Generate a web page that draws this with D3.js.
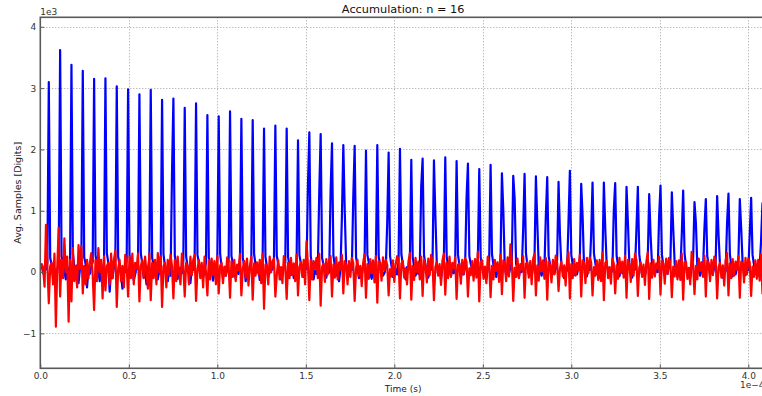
<!DOCTYPE html>
<html>
<head>
<meta charset="utf-8">
<script src="https://cdn.jsdelivr.net/npm/d3@7"></script>
<style>
  body { margin: 0; background: #fff; }
  svg { display: block; }
  text { font-family: "DejaVu Sans", sans-serif; }
</style>
</head>
<body>
<svg id="chart" width="762" height="396"></svg>
<script>
// Averaged ADC record, 16 accumulations, one sample every 0.8 µs
const titleText = "Accumulation: n = 16";
const xLabel = "Time (s)";
const yLabel = "Avg. Samples [Digits]";
const sampleInterval = 0.8e-6;
const xDomain = [0, 4.1e-4];
const yDomain = [-1570, 4155];
const xTicks = [0, 0.5e-4, 1.0e-4, 1.5e-4, 2.0e-4, 2.5e-4, 3.0e-4, 3.5e-4, 4.0e-4];
const yTicks = [-1000, 0, 1000, 2000, 3000, 4000];

// channel A (digits), eight samples per pulse period
const channelA = [
  60, 110, -20, 90, 40, 150, 3100, 230,
  120, -80, 60, -150, 30, 180, 3620, 260,
  140, 10, -120, 80, -60, 120, 3380, 300,
  90, -40, 110, -180, 50, 200, 3280, 240,
  130, -250, 40, -30, 90, 160, 3150, 280,
  100, 20, -150, 60, -20, 140, 3160, 310,
  150, -320, 30, -100, 80, 190, 3030, 250,
  110, -50, -270, 50, 0, 170, 2980, 270,
  90, 60, -130, -40, 100, 150, 2900, 300,
  140, -90, 20, -200, 40, 210, 2970, 230,
  120, -30, 80, -120, 10, 160, 2810, 290,
  100, 50, -150, 30, -60, 1600, 2830, 260,
  130, -110, 40, 70, -20, 180, 2680, 250,
  90, 10, -180, 60, 30, 200, 2750, 280,
  150, -60, 90, -90, 20, 150, 2560, 240,
  110, 40, -140, 10, 70, 190, 2540, 300,
  80, -100, 60, -60, 40, 170, 2620, 260,
  140, 20, -110, 90, -30, 210, 2500, 230,
  100, -150, 30, -20, 80, 160, 2480, 290,
  120, 0, 70, -130, 20, 180, 2340, 250,
  90, -70, -10, 60, 40, 200, 2390, 270,
  130, 30, -120, -40, 90, 150, 2340, 240,
  100, -50, 50, -100, 10, 190, 2150, 280,
  140, 10, -80, 40, 60, 1400, 2280, 260,
  90, -120, 20, -30, 80, 1300, 2250, 230,
  120, 40, -90, 70, -10, 1310, 2100, 270,
  100, -60, 30, -150, 50, 900, 2070, 1000,
  130, 20, -40, 60, 30, 1200, 2060, 240,
  90, -100, 70, -50, 100, 170, 1980, 280,
  150, -20, -110, 40, 20, 190, 2070, 250,
  110, 60, -60, -20, 70, 800, 1950, 260,
  100, -80, 40, 50, -40, 180, 2010, 290,
  130, 0, -120, 80, 30, 200, 1830, 240,
  90, -60, 60, -30, 90, 1400, 1850, 270,
  120, 30, -90, 20, 40, 160, 1820, 930,
  140, -40, 50, -110, 60, 190, 1870, 250,
  100, 20, -70, 70, -20, 170, 1810, 280,
  110, -90, 30, -40, 80, 1200, 1770, 260,
  130, 40, -60, 60, 10, 200, 1680, 240,
  90, -30, 80, -120, 50, 180, 1750, 290,
  120, 10, -80, 40, 30, 160, 1610, 1000,
  100, -60, 50, -20, 70, 190, 1570, 1200,
  140, 20, -90, 60, 0, 700, 1600, 300,
  110, -40, 30, -70, 80, 180, 1560, 800,
  90, 30, -60, 50, 40, 900, 1550, 260,
  130, -80, 60, -30, 60, 200, 1470, 600,
  100, 10, -100, 70, 20, 800, 1650, 280,
  120, -50, 40, -40, 90, 170, 1440, 900,
  90, 20, -70, 60, 30, 600, 1460, 300,
  140, -30, 50, -90, 70, 190, 1460, 700,
  110, 40, -60, 30, 10, 1000, 1450, 270,
  100, -70, 60, -20, 80, 180, 1390, 800,
  130, 10, -90, 50, 40, 700, 1390, 290,
  90, -40, 30, -60, 60, 200, 1270, 600,
  120, 30, -50, 70, 0, 900, 1410, 280,
  110, -60, 40, -30, 90, 170, 1300, 700,
  140, 0, -80, 60, 20, 600, 1330, 300,
  100, -50, 50, -100, 70, 190, 1140, 800,
  90, 30, -60, 40, 30, 700, 1190, 260,
  130, -40, 60, -20, 80, 200, 1240, 600,
  110, 20, -90, 50, 10, 800, 1280, 290,
  100, -70, 40, -40, 60, 180, 1190, 700,
  140, 10, -50, 70, 30, 600, 1210, 280,
  120, -30, 60, -60, 80, 500, 1120, 300,
  100
];

// channel B (digits), same sampling
const channelB = [
  70, 130, 60, -240, 770, 120, -510, 100,
  150, -200, 300, -890, 100, 720, -400, 200,
  -100, 550, 0, 250, -810, 200, -480, 390,
  -150, 100, -250, 440, 50, 420, -350, 100,
  -200, 200, -100, 150, 310, -50, -620, 200,
  -150, 390, 0, 200, -430, 250, -300, 100,
  150, -200, 300, -100, 200, 350, -570, 50,
  200, -150, 100, -250, 280, 100, -400, 250,
  -100, 300, -200, 150, 50, 300, -480, 100,
  200, -100, 250, 0, -270, 300, -460, 150,
  -100, 200, -200, 310, 0, 250, -570, 100,
  150, -250, 200, -50, 280, 100, -430, 200,
  -150, 250, 0, -200, 300, 100, -400, 150,
  100, -200, 250, -50, 200, 280, -470, 50,
  200, -100, 150, -250, 250, 0, -380, 200,
  -120, 220, -50, 180, -200, 260, -350, 100,
  150, -180, 90, -60, 240, 120, -420, 180,
  -80, 200, -150, 120, 30, 290, -380, 60,
  180, -100, 220, -220, 100, 250, -450, 140,
  -60, 160, -30, 200, -180, 300, -600, 120,
  100, -200, 250, 0, 180, 220, -400, -50,
  200, -120, 80, -180, 260, 100, -440, 150,
  -100, 230, -40, 140, -150, 280, -380, 90,
  160, -80, 200, -200, 500, 120, -460, 200,
  -120, 180, 50, 230, -100, 300, -550, 80,
  140, -160, 210, -40, 190, 260, -400, 120,
  -90, 240, -120, 160, 40, 280, -350, 180,
  120, -200, 180, -80, 230, 150, -470, 60,
  200, -60, 100, -230, 150, 290, -420, 130,
  -110, 210, -20, 190, -170, 260, -500, 170,
  150, -140, 240, 30, 200, 120, -380, 50,
  -70, 190, -160, 130, 260, 200, -430, 140,
  180, -90, 60, -200, 170, 310, -450, 100,
  -130, 230, 0, 170, -120, 250, -390, 200,
  110, -170, 220, -50, 280, 140, -460, 80,
  170, -60, 130, -210, 190, 300, -370, 150,
  -100, 250, -80, 150, 60, 240, -440, 120,
  140, -190, 200, -30, 230, 170, -400, 60,
  -50, 180, -140, 210, -90, 330, -480, 160,
  190, -110, 90, -180, 250, 130, -410, 100,
  -120, 200, 30, 160, -160, 280, -360, 190,
  130, -150, 240, -70, 450, 180, -470, 70,
  -80, 220, -100, 130, 40, 260, -420, 140,
  160, -90, 180, -200, 210, 300, -380, 110,
  -140, 240, 10, 190, -110, 230, -450, 170,
  120, -170, 200, -40, 270, 150, -310, 60,
  170, -70, 110, -220, 180, 330, -430, 130,
  -100, 210, -60, 150, 30, 280, -400, 190,
  150, -180, 230, -20, 240, 160, -380, 80,
  -60, 190, -130, 200, -150, 310, -460, 150,
  180, -100, 80, -190, 220, 140, -350, 110,
  -110, 230, -10, 170, -90, 270, -420, 200,
  130, -160, 210, -60, 300, 190, -390, 70,
  160, -80, 120, -210, 170, 320, -440, 140,
  -90, 200, -70, 140, 60, 250, -370, 180,
  140, -190, 220, -30, 230, 150, -410, 90,
  -70, 180, -120, 190, -130, 300, -450, 160,
  170, -110, 70, -200, 330, 130, -360, 100,
  -120, 220, 20, 160, -80, 270, -400, 190,
  130, -150, 200, -50, 250, 180, -430, 80,
  150, -90, 110, -220, 190, 310, -380, 140,
  -100, 210, -60, 170, 40, 260, -420, 170,
  140, -170, 230, -40, 220, 160, -390, 90,
  -80, 190, -110, 200, -140, 290, -350, 150,
  60
];

const svg = d3.select("#chart");
const plot = { left: 40.3, right: 766, top: 17.3, bottom: 368.3 };

const x = d3.scaleLinear().domain(xDomain).range([plot.left, plot.right]);
const y = d3.scaleLinear().domain(yDomain).range([plot.bottom, plot.top]);

svg.append("defs").append("clipPath").attr("id", "plotClip")
  .append("rect")
  .attr("x", plot.left).attr("y", plot.top)
  .attr("width", plot.right - plot.left).attr("height", plot.bottom - plot.top);

// dotted grid
const grid = svg.append("g").attr("stroke", "#a0a0a0").attr("stroke-width", 1)
  .attr("stroke-dasharray", "1,2");
grid.selectAll("line.gx").data(xTicks).join("line").attr("class", "gx")
  .attr("x1", d => Math.round(x(d)) + 0.5).attr("x2", d => Math.round(x(d)) + 0.5)
  .attr("y1", plot.top).attr("y2", plot.bottom);
grid.selectAll("line.gy").data(yTicks).join("line").attr("class", "gy")
  .attr("x1", plot.left).attr("x2", plot.right)
  .attr("y1", d => Math.round(y(d)) + 0.5).attr("y2", d => Math.round(y(d)) + 0.5);

// traces
const line = d3.line()
  .x((d, i) => x(i * sampleInterval))
  .y(d => y(d));

const traces = svg.append("g").attr("clip-path", "url(#plotClip)");
traces.append("path").datum(channelA)
  .attr("d", line).attr("fill", "none")
  .attr("stroke", "#0000ff").attr("stroke-width", 2.2).attr("stroke-linejoin", "round");
traces.append("path").datum(channelB)
  .attr("d", line).attr("fill", "none")
  .attr("stroke", "#ff0000").attr("stroke-width", 2.2).attr("stroke-linejoin", "round");

// frame
svg.append("rect")
  .attr("x", plot.left).attr("y", plot.top)
  .attr("width", plot.right - plot.left).attr("height", plot.bottom - plot.top)
  .attr("fill", "none").attr("stroke", "#5a5a5a").attr("stroke-width", 1.6);

// axes
const xAxis = d3.axisBottom(x).tickValues(xTicks)
  .tickFormat(d => (d / 1e-4).toFixed(1))
  .tickSize(-4).tickPadding(4);
const gx = svg.append("g").attr("transform", `translate(0,${plot.bottom})`).call(xAxis);

const yAxis = d3.axisLeft(y).tickValues(yTicks)
  .tickFormat(d => d3.format("d")(d / 1000).replace("-", "\u2212"))
  .tickSize(-4).tickPadding(4);
const gy = svg.append("g").attr("transform", `translate(${plot.left},0)`).call(yAxis);

[gx, gy].forEach(g => {
  g.select(".domain").remove();
  g.selectAll(".tick line").attr("stroke", "#5a5a5a");
  g.selectAll(".tick text").attr("fill", "#333").style("font-size", "9px")
    .style("font-family", "'DejaVu Sans', sans-serif");
});

// offset labels
svg.append("text").attr("x", plot.left).attr("y", 14.5)
  .style("font-size", "9px").attr("fill", "#333").text("1e3");
svg.append("text").attr("x", 740).attr("y", 387.5)
  .style("font-size", "9px").attr("fill", "#333").text("1e\u22124");

// titles
svg.append("text").attr("x", (plot.left + plot.right) / 2).attr("y", 13)
  .attr("text-anchor", "middle").style("font-size", "11.3px").attr("fill", "#111")
  .text(titleText);
svg.append("text").attr("x", (plot.left + plot.right) / 2).attr("y", 391.5)
  .attr("text-anchor", "middle").style("font-size", "9px").attr("fill", "#222")
  .text(xLabel);
svg.append("text")
  .attr("transform", `translate(20.5,${(plot.top + plot.bottom) / 2}) rotate(-90)`)
  .attr("text-anchor", "middle").style("font-size", "9.5px").attr("fill", "#222")
  .text(yLabel);
</script>
</body>
</html>
